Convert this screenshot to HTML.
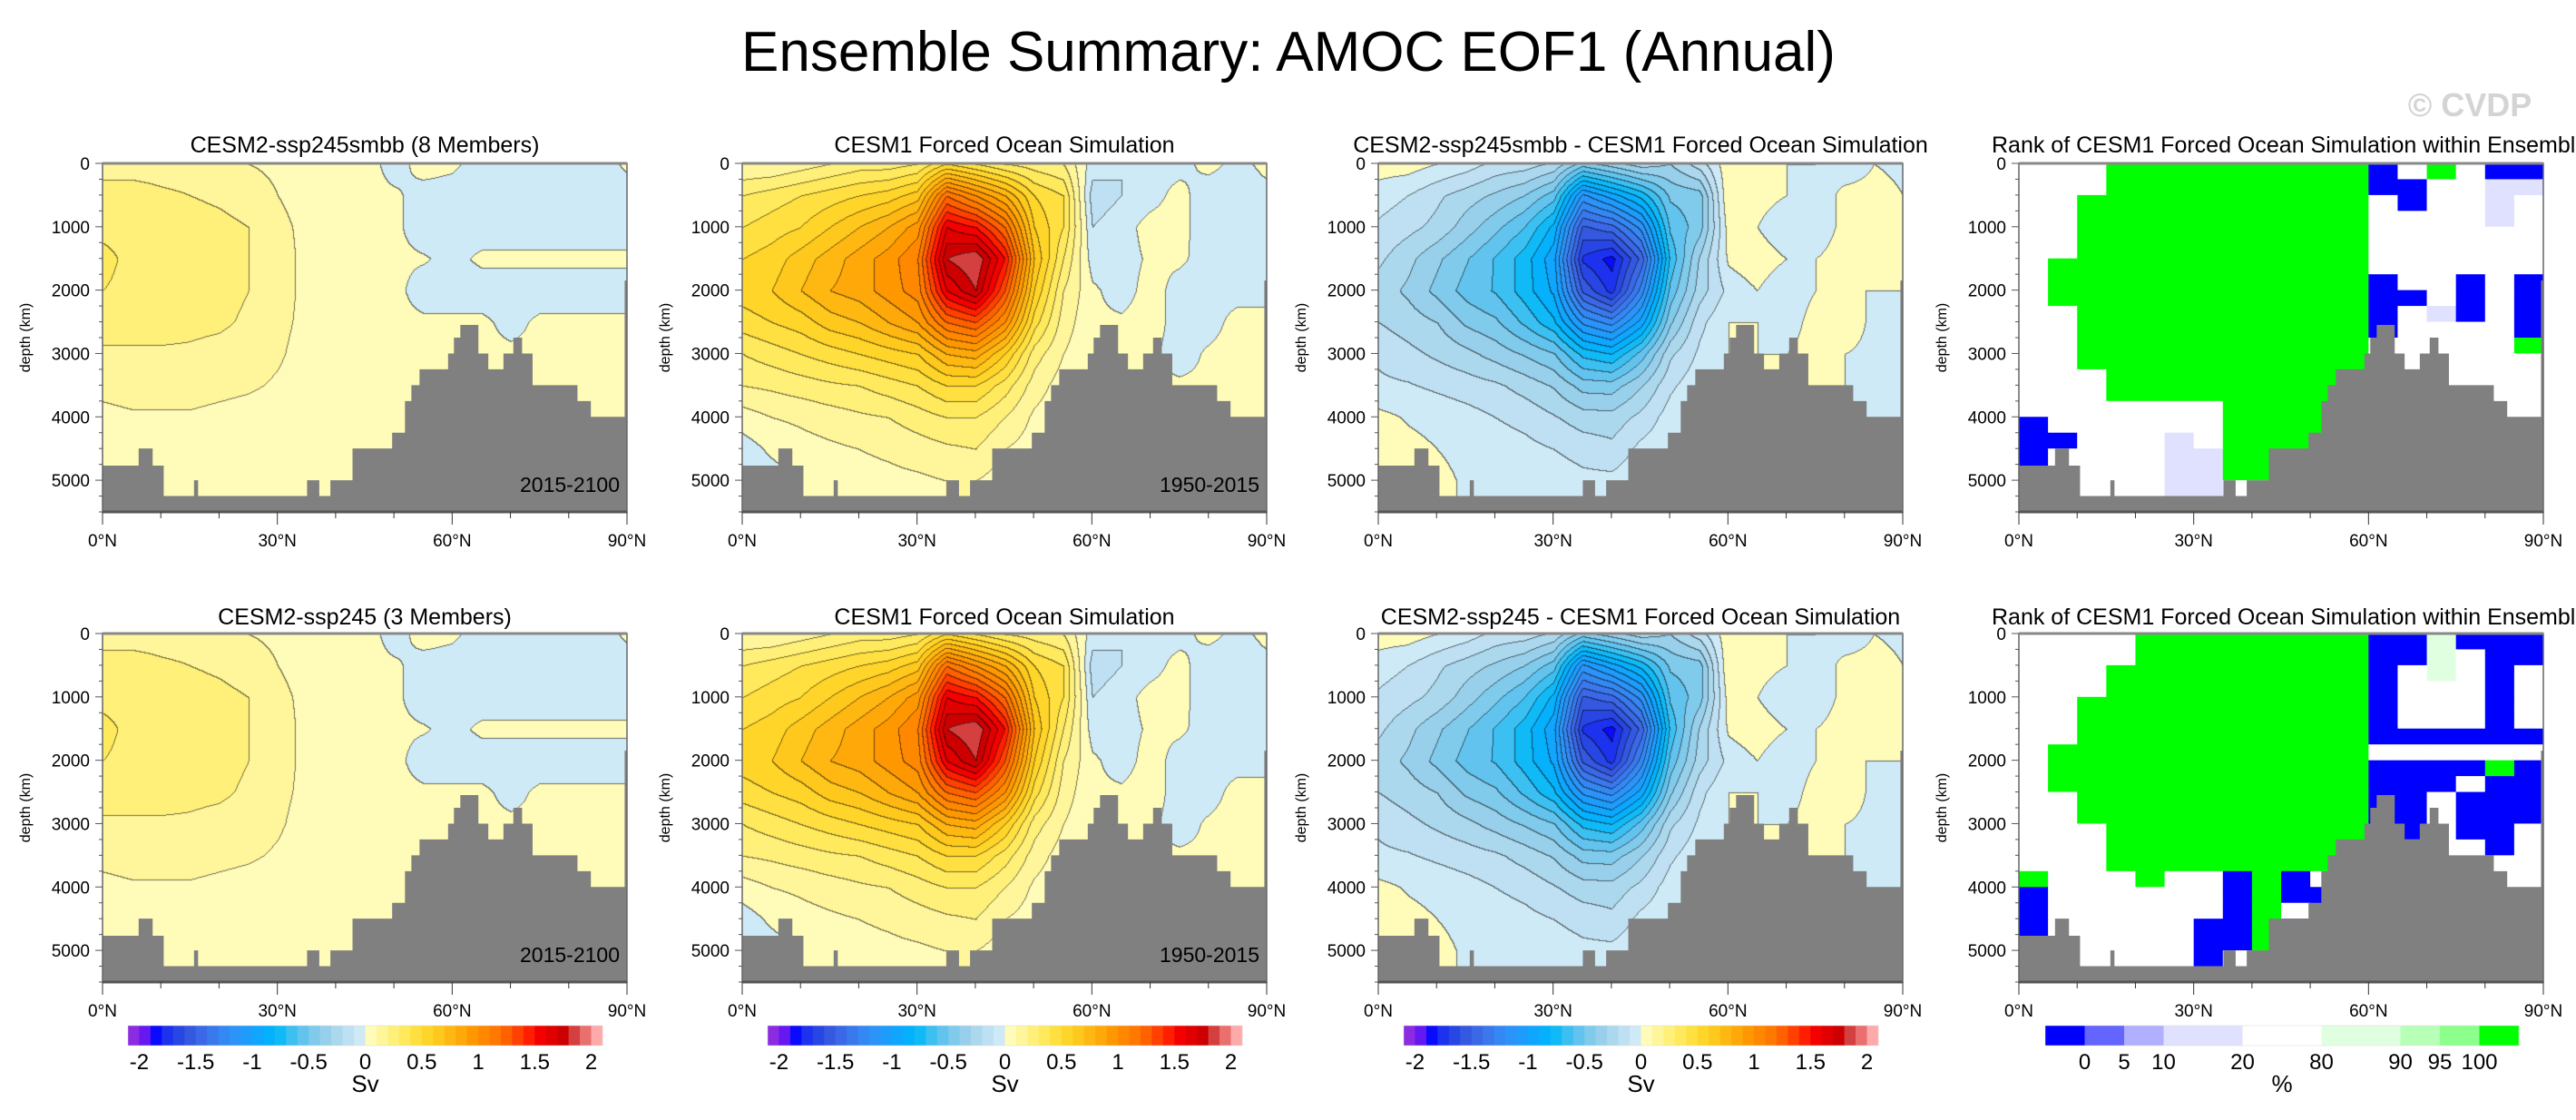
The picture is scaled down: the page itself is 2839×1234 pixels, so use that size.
<!DOCTYPE html>
<html><head><meta charset="utf-8"><style>
html,body{margin:0;padding:0;background:#fff;}
#root{position:relative;width:2839px;height:1234px;overflow:hidden;font-family:"Liberation Sans",sans-serif;}
canvas{position:absolute;}
svg{position:absolute;left:0;top:0;}
</style></head><body>
<div id="root">
<svg id="svg" width="2839" height="1234"></svg>
</div>
<script>
// ---------- data ----------
const latGrid = [0,5,10,15,20,25,30,35,40,45,50,55,60,65,70,75,80,85,90];
const depthGrid = [0,500,1000,1500,2000,2500,3000,3500,4000,4500,5000,5500];
const ensembleField = [
[0.15,0.15,0.15,0.15,0.12,0.10,0.08,0.05,0.05,0.05,-0.05,0.05,0.02,-0.05,-0.05,-0.05,-0.05,-0.05,0.02],
[0.25,0.25,0.22,0.20,0.18,0.15,0.10,0.07,0.05,0.03,0.02,-0.05,-0.05,-0.05,-0.05,-0.05,-0.05,-0.05,-0.05],
[0.28,0.28,0.27,0.25,0.23,0.20,0.12,0.08,0.06,0.03,0.02,-0.05,-0.05,-0.05,-0.05,-0.05,-0.05,-0.05,-0.05],
[0.32,0.28,0.27,0.26,0.24,0.20,0.13,0.08,0.06,0.03,0.02,0.01,-0.03,0.02,0.02,0.02,0.02,0.02,0.02],
[0.30,0.28,0.27,0.26,0.24,0.20,0.13,0.08,0.06,0.04,0.03,-0.05,-0.05,-0.05,-0.05,-0.05,-0.05,-0.05,-0.05],
[0.25,0.25,0.25,0.23,0.22,0.18,0.12,0.08,0.06,0.04,0.03,0.02,0.02,0.02,-0.03,0.02,0.02,0.02,0.02],
[0.18,0.18,0.18,0.18,0.16,0.14,0.11,0.07,0.05,0.04,0.03,0.02,0.02,0.02,0.02,0.02,0.02,0.02,0.02],
[0.12,0.13,0.13,0.13,0.12,0.11,0.09,0.06,0.05,0.04,0.03,0.02,0.02,0.02,0.02,0.02,0.02,0.02,0.02],
[0.08,0.09,0.09,0.09,0.08,0.07,0.06,0.05,0.04,0.03,0.03,0.02,0.02,0.02,0.02,0.02,0.02,0.02,0.02],
[0.03,0.05,0.06,0.06,0.05,0.05,0.05,0.04,0.03,0.03,0.02,0.02,0.02,0.02,0.02,0.02,0.02,0.02,0.02],
[-0.02,0.03,0.04,0.04,0.04,0.04,0.04,0.03,0.03,0.02,0.02,0.02,0.02,0.02,0.02,0.02,0.02,0.02,0.02],
[-0.02,0.03,0.04,0.04,0.04,0.04,0.04,0.03,0.03,0.02,0.02,0.02,0.02,0.02,0.02,0.02,0.02,0.02,0.02]];
const forcedField = [
[0.10,0.10,0.15,0.20,0.25,0.25,0.30,0.50,0.40,0.30,0.25,0.20,-0.05,-0.10,-0.05,-0.05,0.05,-0.05,0.05],
[0.30,0.35,0.40,0.45,0.50,0.55,0.65,1.20,1.00,0.80,0.50,0.40,-0.15,-0.10,-0.05,0.05,-0.10,-0.10,-0.05],
[0.40,0.45,0.50,0.60,0.70,0.80,0.95,1.60,1.50,1.20,0.60,0.40,-0.10,-0.05,0.05,0.05,-0.10,-0.10,-0.05],
[0.50,0.55,0.65,0.75,0.85,0.95,1.10,1.80,1.90,1.50,0.70,0.30,-0.05,-0.05,0.02,0.02,-0.05,-0.05,-0.05],
[0.55,0.60,0.70,0.80,0.85,0.95,1.05,1.60,1.80,1.30,0.60,0.20,0.02,-0.05,0.05,-0.05,-0.05,-0.05,-0.05],
[0.45,0.50,0.55,0.65,0.70,0.80,0.90,1.20,1.30,1.00,0.45,0.15,0.02,0.02,0.05,-0.05,-0.05,0.05,0.05],
[0.30,0.35,0.40,0.45,0.50,0.55,0.60,0.80,0.85,0.60,0.25,0.10,0.02,0.02,0.02,-0.05,0.02,0.05,0.05],
[0.20,0.22,0.25,0.28,0.30,0.35,0.40,0.50,0.50,0.35,0.15,0.05,0.02,0.02,0.02,0.02,0.02,0.05,0.05],
[0.05,0.10,0.12,0.15,0.18,0.20,0.25,0.30,0.30,0.20,0.08,0.03,0.02,0.02,0.02,0.02,0.02,0.02,0.02],
[-0.05,0.02,0.06,0.08,0.10,0.12,0.15,0.18,0.20,0.10,0.05,0.02,0.02,0.02,0.02,0.02,0.02,0.02,0.02],
[-0.05,-0.05,0.02,0.05,0.06,0.07,0.08,0.10,0.10,0.05,0.03,0.02,0.02,0.02,0.02,0.02,0.02,0.02,0.02],
[-0.05,-0.05,0.02,0.05,0.06,0.07,0.08,0.10,0.10,0.05,0.03,0.02,0.02,0.02,0.02,0.02,0.02,0.02,0.02]];
const bathyLatEdges = [0,6.2,8.6,10.5,15.7,16.4,35.1,37.2,39.1,42.9,49.7,51.9,53.0,54.4,59.3,60.3,61.4,64.5,66.2,68.8,70.5,72.0,73.8,81.5,83.8,89.6,90];
const bathyDepth = [4770,4500,4770,5250,5000,5250,5000,5250,5000,4500,4250,3750,3500,3250,3000,2750,2550,3000,3250,3000,2750,3000,3500,3750,4000,1850];
const rankTop = [
"WWWGGGGGGGGGBWGWBB","WWWGGGGGGGGGBBWWLL","WWGGGGGGGGGGWBWWLW","WWGGGGGGGGGGWWWWLW",
"WWGGGGGGGGGGWWWWWW","WWGGGGGGGGGGWWWWWW","WGGGGGGGGGGGWWWWWW","WGGGGGGGGGGGBWWBWB",
"WGGGGGGGGGGGBBWBWB","WWGGGGGGGGGGBWLBWB","WWGGGGGGGGGGBWWWWB","WWGGGGGGGGGGWWWWWG",
"WWGGGGGGGGGGWWWWWW","WWWGGGGGGGGGWWWWWW","WWWGGGGGGGGWWWWWWW","WWWWWWWGGGGWWWWWWW",
"BWWWWWWGGGGWWWWWWW","BBWWWLWGGGGWWWWWWW","BWWWWLLGGGWWWWWWWW","BWWWWLLGGWWWWWWWWW",
"WWWWWLLWWWWWWWWWWW","WWWWWLLWWWWWWWWWWW"];
const rankBottom = [
"WWWWGGGGGGGGBBgBBB","WWWWGGGGGGGGBBgWBB","WWWGGGGGGGGGBWgWBW","WWWGGGGGGGGGBWWWBW",
"WWGGGGGGGGGGBWWWBW","WWGGGGGGGGGGBWWWBW","WWGGGGGGGGGGBBBBBB","WGGGGGGGGGGGWWWWWW",
"WGGGGGGGGGGGBBBBGB","WGGGGGGGGGGGBBBWBB","WWGGGGGGGGGGBBWBBB","WWGGGGGGGGGGBBWBBB",
"WWWGGGGGGGGGBBWBBW","WWWGGGGGGGGGWWWWBW","WWWGGGGGGGGWWWWWWW","GWWWGWWBGBWWWWWWWW",
"BWWWWWWBGBBWWWWWWW","BWWWWWWBGWBWWWWWWW","BWWWWWBBGBWWWWWWWW","BWWWWWBBGWWWWWWWWW",
"WWWWWWBWGWWWWWWWWW","WWWWWWBWGWWWWWWWWW"];
const svLabels = ["-2","-1.5","-1","-0.5","0","0.5","1","1.5","2"];
const svLabelVals = [-2,-1.5,-1,-0.5,0,0.5,1,1.5,2];
const rankLabels = ["0","5","10","20","80","90","95","100"];
const latTicks = [0,30,60,90];
const latTickLabels = ["0°N","30°N","60°N","90°N"];
const depthTicks = [0,1000,2000,3000,4000,5000];

// ---------- styling ----------
const palette = ['#8b2be2','#6518f0','#0a0aff','#1c32ee','#2846e4','#3458e0','#3a68e6','#3a78ee','#3488f3','#2c94f8','#1e9cfc','#10a6ff','#05b0fc','#10baf7','#3cc0f2','#62c4ee','#80caec','#98d0ec','#acd8ee','#bee0f2','#cfeaf7',
'#fffbb8','#fff59a','#fff07a','#ffe95c','#ffe040','#ffd52a','#ffc81c','#ffb812','#ffa80a','#ff9800','#ff8800','#ff7800','#ff6000','#ff4000','#ff1e00','#f40000','#e00000','#cc0000','#d44040','#ea7070','#ffaaaa'];
const rankColors = {B:'#0000ff',b:'#6464ff',l:'#b0b0ff',L:'#e0e0ff',W:'#ffffff',g:'#e0ffe0',h:'#b8ffb8',m:'#8cff8c',G:'#00ff00'};
const rankBarColors = ['#0000ff','#6464ff','#b0b0ff','#e0e0ff','#ffffff','#e0ffe0','#b8ffb8','#8cff8c','#00ff00'];
const rankBarWidths = [1,1,1,2,2,2,1,1,1];

const colX = [113,818,1519,2225], W = 578;
const rowY = [180,698], H = 384;
const maxDepth = 5500;
const NS = 'http://www.w3.org/2000/svg';
const svg = document.getElementById('svg');
const root = document.getElementById('root');
function xs(lat,c){return colX[c]+lat/90*W;}
function ys(d,r){return rowY[r]+d/maxDepth*H;}
function mk(tag,attrs,parent){const e=document.createElementNS(NS,tag);for(const k in attrs)e.setAttribute(k,attrs[k]);(parent||svg).appendChild(e);return e;}
function txt(s,x,y,size,anchor,parent,extra){const t=mk('text',Object.assign({x:x,y:y,'font-size':size,'text-anchor':anchor||'middle','font-family':'Liberation Sans, sans-serif'},extra||{}),parent);t.textContent=s;return t;}
function hex(c){return [parseInt(c.substr(1,2),16),parseInt(c.substr(3,2),16),parseInt(c.substr(5,2),16)];}
const palRGB = palette.map(hex);

function sample(field,lat,depth){
  let i=Math.min(latGrid.length-2,Math.floor(lat/5)); let fx=(lat-latGrid[i])/5;
  let j=Math.min(depthGrid.length-2,Math.floor(depth/500)); let fy=(depth-depthGrid[j])/500;
  const a=field[j][i],b=field[j][i+1],c=field[j+1][i],d=field[j+1][i+1];
  return (a*(1-fx)+b*fx)*(1-fy)+(c*(1-fx)+d*fx)*fy;
}
function drawField(fieldFn,c,r,name){
  const cv=document.createElement('canvas');
  cv.width=W;cv.height=H;cv.style.left=colX[c]+'px';cv.style.top=rowY[r]+'px';
  
  
  root.insertBefore(cv,svg);
  const ctx=cv.getContext('2d');const img=ctx.createImageData(W,H);
  const lev=new Int16Array(W*H);
  for(let y=0;y<H;y++)for(let x=0;x<W;x++){
    const v=fieldFn(x/W*90,y/H*maxDepth);
    let k=Math.floor((v+2.1)/0.1);k=Math.max(0,Math.min(41,k));lev[y*W+x]=k;
  }
  for(let y=0;y<H;y++)for(let x=0;x<W;x++){
    const k=lev[y*W+x];let col=palRGB[k];let p=(y*W+x)*4;
    const edge=(x>0&&lev[y*W+x-1]!==k)||(y>0&&lev[(y-1)*W+x]!==k);
    if(edge){img.data[p]=col[0]*0.45;img.data[p+1]=col[1]*0.45;img.data[p+2]=col[2]*0.45;}
    else{img.data[p]=col[0];img.data[p+1]=col[1];img.data[p+2]=col[2];}
    img.data[p+3]=255;
  }
  ctx.putImageData(img,0,0);
}
function drawRank(grid,c,r){
  const g=mk('g',{});
  for(let j=0;j<grid.length;j++)for(let i=0;i<grid[j].length;i++){
    const rc=mk('rect',{x:xs(i*5,c),y:ys(j*250,r),width:xs(5,c)-xs(0,c)+0.5,height:ys(250,r)-ys(0,r)+0.5,fill:rankColors[grid[j][i]]},g);
    
    
  }
}
function drawBathy(c,r){
  let d='M'+xs(0,c)+','+ys(maxDepth,r);
  for(let i=0;i<bathyDepth.length;i++){
    d+=' L'+xs(bathyLatEdges[i],c)+','+ys(bathyDepth[i],r)+' L'+xs(bathyLatEdges[i+1],c)+','+ys(bathyDepth[i],r);
  }
  d+=' L'+xs(90,c)+','+ys(maxDepth,r)+' Z';
  const p=mk('path',{d:d,fill:'#808080'});
  
  
}
function drawAxes(c,r){
  const g=mk('g',{});
  
  
  mk('rect',{x:colX[c],y:rowY[r],width:W,height:H,fill:'none',stroke:'#666','stroke-width':1.5},g);
  mk('line',{x1:colX[c],x2:colX[c]+W,y1:rowY[r]+H,y2:rowY[r]+H,stroke:'#555','stroke-width':3},g);
  mk('line',{x1:colX[c],x2:colX[c]+W,y1:rowY[r],y2:rowY[r],stroke:'#888','stroke-width':3},g);
  for(let l=0;l<=90;l+=10){const mj=l%30===0;mk('line',{x1:xs(l,c),x2:xs(l,c),y1:rowY[r]+H,y2:rowY[r]+H+(mj?14:7),stroke:'#333','stroke-width':1},g);}
  latTicks.forEach((l,i)=>{const t=txt(latTickLabels[i],xs(l,c),rowY[r]+H+38,19,'middle',g);});
  for(let d=0;d<=5500;d+=250){const mj=d%1000===0;mk('line',{x1:colX[c],x2:colX[c]-(mj?8:4),y1:ys(d,r),y2:ys(d,r),stroke:'#555','stroke-width':1},g);}
  depthTicks.forEach(d=>{const t=txt(String(d),colX[c]-14,ys(d,r)+7,19,'end',g);});
  const yl=txt('depth (km)',0,0,16,'middle',g,{transform:'translate('+(colX[c]-80)+','+(rowY[r]+H/2)+') rotate(-90)'});
  
}
function drawSvBar(c){
  const x0=[141,846,1547][c],x1=[664,1369,2070][c],y0=1130,h=22,n=42,bw=(x1-x0)/n;
  const g=mk('g',{});
  
  
  for(let i=0;i<n;i++)mk('rect',{x:x0+i*bw,y:y0,width:bw+0.4,height:h,fill:palette[i]},g);
  mk('rect',{x:x0,y:y0,width:x1-x0,height:h,fill:'none',stroke:'#ddd','stroke-width':0.5},g);
  svLabels.forEach((s,i)=>{txt(s,x0+(svLabelVals[i]+2.1)/4.2*(x1-x0),1178,24,'middle',g);});
  txt('Sv',(x0+x1)/2,1203,26,'middle',g);
}
function drawRankBar(){
  const x0=2254,x1=2776,y0=1130,h=22,tot=rankBarWidths.reduce((a,b)=>a+b,0),u=(x1-x0)/tot;
  const g=mk('g',{});
  
  
  let x=x0;const bnd=[];
  rankBarColors.forEach((col,i)=>{mk('rect',{x:x,y:y0,width:rankBarWidths[i]*u+0.4,height:h,fill:col},g);x+=rankBarWidths[i]*u;bnd.push(x);});
  mk('rect',{x:x0,y:y0,width:x1-x0,height:h,fill:'none',stroke:'#ddd','stroke-width':0.5},g);
  rankLabels.forEach((s,i)=>txt(s,bnd[i],1178,24,'middle',g));
  txt('%',(x0+x1)/2,1203,26,'middle',g);
}

// ---------- build ----------
const diffFn=(lat,d)=>sample(ensembleField,lat,d)-sample(forcedField,lat,d);
for(let r=0;r<2;r++){
  drawField((l,d)=>sample(ensembleField,l,d),0,r,'ensemble-field-'+(r+1));
  drawField((l,d)=>sample(forcedField,l,d),1,r,'forced-field-'+(r+1));
  drawField(diffFn,2,r,'difference-field-'+(r+1));
  drawRank(r===0?rankTop:rankBottom,3,r);
  for(let c=0;c<4;c++){drawBathy(c,r);drawAxes(c,r);}
  const y1=txt('2015-2100',colX[0]+W-8,rowY[r]+H-22,23,'end');
  const y2=txt('1950-2015',colX[1]+W-8,rowY[r]+H-22,23,'end');
}
const titles=[["CESM2-ssp245smbb (8 Members)","CESM1 Forced Ocean Simulation","CESM2-ssp245smbb - CESM1 Forced Ocean Simulation","Rank of CESM1 Forced Ocean Simulation within Ensemble"],
["CESM2-ssp245 (3 Members)","CESM1 Forced Ocean Simulation","CESM2-ssp245 - CESM1 Forced Ocean Simulation","Rank of CESM1 Forced Ocean Simulation within Ensemble"]];
const clip=mk('clipPath',{id:'clipR'});mk('rect',{x:2150,y:0,width:689,height:1234},clip);
for(let r=0;r<2;r++)for(let c=0;c<4;c++){
  const t=txt(titles[r][c],c===3?colX[3]-30:colX[c]+W/2,r===0?168:688,25,c===3?'start':'middle');
  if(c===3)t.setAttribute('clip-path','url(#clipR)');
  
  
}
for(let c=0;c<3;c++)drawSvBar(c);
drawRankBar();
const mt=txt('Ensemble Summary: AMOC EOF1 (Annual)',1420,78,62,'middle');

const cp=txt('© CVDP',2722,128,36,'middle',svg,{fill:'#d4d4d4','font-weight':'bold'});

</script>
</body></html>
